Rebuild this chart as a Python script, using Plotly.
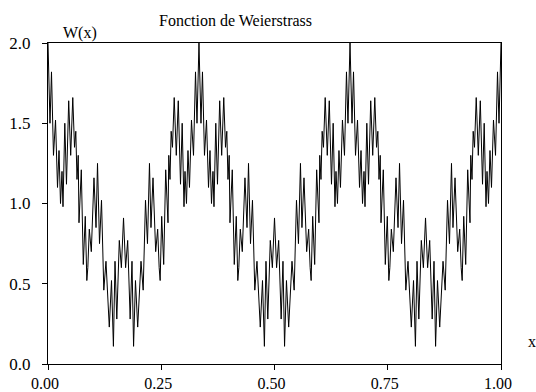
import plotly.graph_objects as go

# Values (local extrema of the curve), three periods
x_p1 = [0.0000, 0.0044, 0.0077, 0.0121, 0.0166, 0.0210, 0.0243, 0.0276, 0.0309, 0.0331,
        0.0371, 0.0408, 0.0457, 0.0501, 0.0547, 0.0585, 0.0614, 0.0640, 0.0667, 0.0684,
        0.0735, 0.0779, 0.0823, 0.0857, 0.0879, 0.0912, 0.0956, 0.1015, 0.1060, 0.1093,
        0.1137, 0.1181, 0.1232, 0.1280, 0.1353, 0.1402, 0.1444, 0.1479, 0.1519, 0.1574,
        0.1620, 0.1667, 0.1713, 0.1759, 0.1814, 0.1854, 0.1889, 0.1931, 0.1980, 0.2053,
        0.2101, 0.2152, 0.2196, 0.2240, 0.2273, 0.2318, 0.2377, 0.2421, 0.2454, 0.2476,
        0.2510, 0.2554, 0.2598, 0.2649, 0.2666, 0.2693, 0.2719, 0.2748, 0.2786, 0.2832,
        0.2876, 0.2925, 0.2962, 0.3002, 0.3024, 0.3057, 0.3090, 0.3123, 0.3167, 0.3212,
        0.3256, 0.3289, 0.3333]
w_p1 = [2.00, 1.50, 1.82, 1.30, 1.52, 1.10, 1.33, 1.00, 1.20, 0.98,
        1.50, 1.12, 1.64, 1.30, 1.66, 1.35, 1.45, 1.15, 1.30, 0.88,
        1.21, 0.62, 0.92, 0.52, 0.60, 0.84, 0.70, 1.16, 0.85, 1.25,
        0.75, 1.02, 0.46, 0.64, 0.23, 0.52, 0.11, 0.64, 0.28, 0.77,
        0.60, 0.91, 0.60, 0.77, 0.28, 0.64, 0.11, 0.52, 0.23, 0.64,
        0.46, 1.02, 0.75, 1.25, 0.85, 1.16, 0.70, 0.84, 0.60, 0.52,
        0.92, 0.62, 1.21, 0.88, 1.30, 1.15, 1.45, 1.35, 1.66, 1.30,
        1.64, 1.12, 1.50, 0.98, 1.20, 1.00, 1.33, 1.10, 1.52, 1.30,
        1.82, 1.50, 2.00]

x_p2 = [0.3377, 0.3410, 0.3454, 0.3499, 0.3543, 0.3576, 0.3609, 0.3642, 0.3664, 0.3704,
        0.3741, 0.3790, 0.3834, 0.3880, 0.3918, 0.3947, 0.3973, 0.4000, 0.4017, 0.4068,
        0.4112, 0.4156, 0.4190, 0.4212, 0.4245, 0.4289, 0.4348, 0.4393, 0.4426, 0.4470,
        0.4514, 0.4565, 0.4613, 0.4686, 0.4735, 0.4777, 0.4812, 0.4852, 0.4907, 0.4953,
        0.5000, 0.5046, 0.5092, 0.5147, 0.5187, 0.5222, 0.5264, 0.5313, 0.5386, 0.5434,
        0.5485, 0.5529, 0.5573, 0.5606, 0.5651, 0.5710, 0.5754, 0.5787, 0.5809, 0.5843,
        0.5887, 0.5931, 0.5982, 0.5999, 0.6026, 0.6052, 0.6081, 0.6119, 0.6165, 0.6209,
        0.6258, 0.6295, 0.6335, 0.6357, 0.6390, 0.6423, 0.6456, 0.6500, 0.6545, 0.6589,
        0.6622, 0.6667]
w_p2 = [1.50, 1.82, 1.30, 1.52, 1.10, 1.33, 1.00, 1.20, 0.98, 1.50,
        1.12, 1.64, 1.30, 1.66, 1.35, 1.45, 1.15, 1.30, 0.88, 1.21,
        0.62, 0.92, 0.52, 0.60, 0.84, 0.70, 1.16, 0.85, 1.25, 0.75,
        1.02, 0.46, 0.64, 0.23, 0.52, 0.11, 0.64, 0.28, 0.77, 0.60,
        0.91, 0.60, 0.77, 0.28, 0.64, 0.11, 0.52, 0.23, 0.64, 0.46,
        1.02, 0.75, 1.25, 0.85, 1.16, 0.70, 0.84, 0.60, 0.52, 0.92,
        0.62, 1.21, 0.88, 1.30, 1.15, 1.45, 1.35, 1.66, 1.30, 1.64,
        1.12, 1.50, 0.98, 1.20, 1.00, 1.33, 1.10, 1.52, 1.30, 1.82,
        1.50, 2.00]

x_p3 = [0.6711, 0.6744, 0.6788, 0.6833, 0.6877, 0.6910, 0.6943, 0.6976, 0.6998, 0.7038,
        0.7075, 0.7124, 0.7168, 0.7214, 0.7252, 0.7281, 0.7307, 0.7334, 0.7351, 0.7402,
        0.7446, 0.7490, 0.7524, 0.7546, 0.7579, 0.7623, 0.7682, 0.7727, 0.7760, 0.7804,
        0.7848, 0.7899, 0.7947, 0.8020, 0.8069, 0.8111, 0.8146, 0.8186, 0.8241, 0.8287,
        0.8334, 0.8380, 0.8426, 0.8481, 0.8521, 0.8556, 0.8598, 0.8647, 0.8720, 0.8768,
        0.8819, 0.8863, 0.8907, 0.8940, 0.8985, 0.9044, 0.9088, 0.9121, 0.9143, 0.9177,
        0.9221, 0.9265, 0.9316, 0.9333, 0.9360, 0.9386, 0.9415, 0.9453, 0.9499, 0.9543,
        0.9592, 0.9629, 0.9669, 0.9691, 0.9724, 0.9757, 0.9790, 0.9834, 0.9879, 0.9923,
        0.9956, 1.0000]
w_p3 = [1.50, 1.82, 1.30, 1.52, 1.10, 1.33, 1.00, 1.20, 0.98, 1.50,
        1.12, 1.64, 1.30, 1.66, 1.35, 1.45, 1.15, 1.30, 0.88, 1.21,
        0.62, 0.92, 0.52, 0.60, 0.84, 0.70, 1.16, 0.85, 1.25, 0.75,
        1.02, 0.46, 0.64, 0.23, 0.52, 0.11, 0.64, 0.28, 0.77, 0.60,
        0.91, 0.60, 0.77, 0.28, 0.64, 0.11, 0.52, 0.23, 0.64, 0.46,
        1.02, 0.75, 1.25, 0.85, 1.16, 0.70, 0.84, 0.60, 0.52, 0.92,
        0.62, 1.21, 0.88, 1.30, 1.15, 1.45, 1.35, 1.66, 1.30, 1.64,
        1.12, 1.50, 0.98, 1.20, 1.00, 1.33, 1.10, 1.52, 1.30, 1.82,
        1.50, 2.00]

x_ticks = [0.0, 0.25, 0.5, 0.75, 1.0]
x_ticklabels = ["0.00", "0.25", "0.50", "0.75", "1.00"]
y_ticks = [0.0, 0.5, 1.0, 1.5, 2.0]
y_ticklabels = ["0.0", "0.5", "1.0", "1.5", "2.0"]

title_text = "Fonction de Weierstrass"
y_label = "W(x)"
x_label = "x"

FONT = "Liberation Serif"

x_all = x_p1 + x_p2 + x_p3
w_all = w_p1 + w_p2 + w_p3

L, R, T, B = 48, 35, 43, 28
W_, H_ = 536, 392
pw, ph = W_ - L - R, H_ - T - B

fig = go.Figure()
fig.add_trace(go.Scatter(x=x_all, y=w_all, mode="lines",
                         line=dict(color="black", width=1), showlegend=False,
                         hoverinfo="skip"))

axis_common = dict(showline=True, linecolor="black", linewidth=1, mirror=True,
                   ticks="outside", ticklen=5, tickwidth=1, tickcolor="black",
                   showgrid=False, zeroline=False, automargin=False)


def ann(text, px, py, size=16):
    return dict(text=text, x=(px - L) / pw, y=1 - (py - T) / ph,
                xref="paper", yref="paper", xanchor="center", yanchor="middle",
                showarrow=False, font=dict(family=FONT, size=size, color="black"))


fig.update_layout(
    width=W_, height=H_,
    margin=dict(l=L, r=R, t=T, b=B, pad=0),
    paper_bgcolor="white", plot_bgcolor="white",
    font=dict(family=FONT, size=16, color="black"),
    xaxis=dict(range=[0, 1], tickvals=x_ticks, ticktext=x_ticklabels,
               ticklabelstandoff=0, ticklabelshift=-3,
               tickfont=dict(family=FONT, size=16, color="black"), **axis_common),
    yaxis=dict(range=[0, 2], tickvals=y_ticks, ticktext=y_ticklabels,
               ticklabelstandoff=8,
               tickfont=dict(family=FONT, size=17, color="black"), **axis_common),
    annotations=[
        ann(title_text, 235, 20),
        ann(y_label, 80, 33),
        ann(x_label, 532, 341),
    ],
)

fig.write_html("out.html")
